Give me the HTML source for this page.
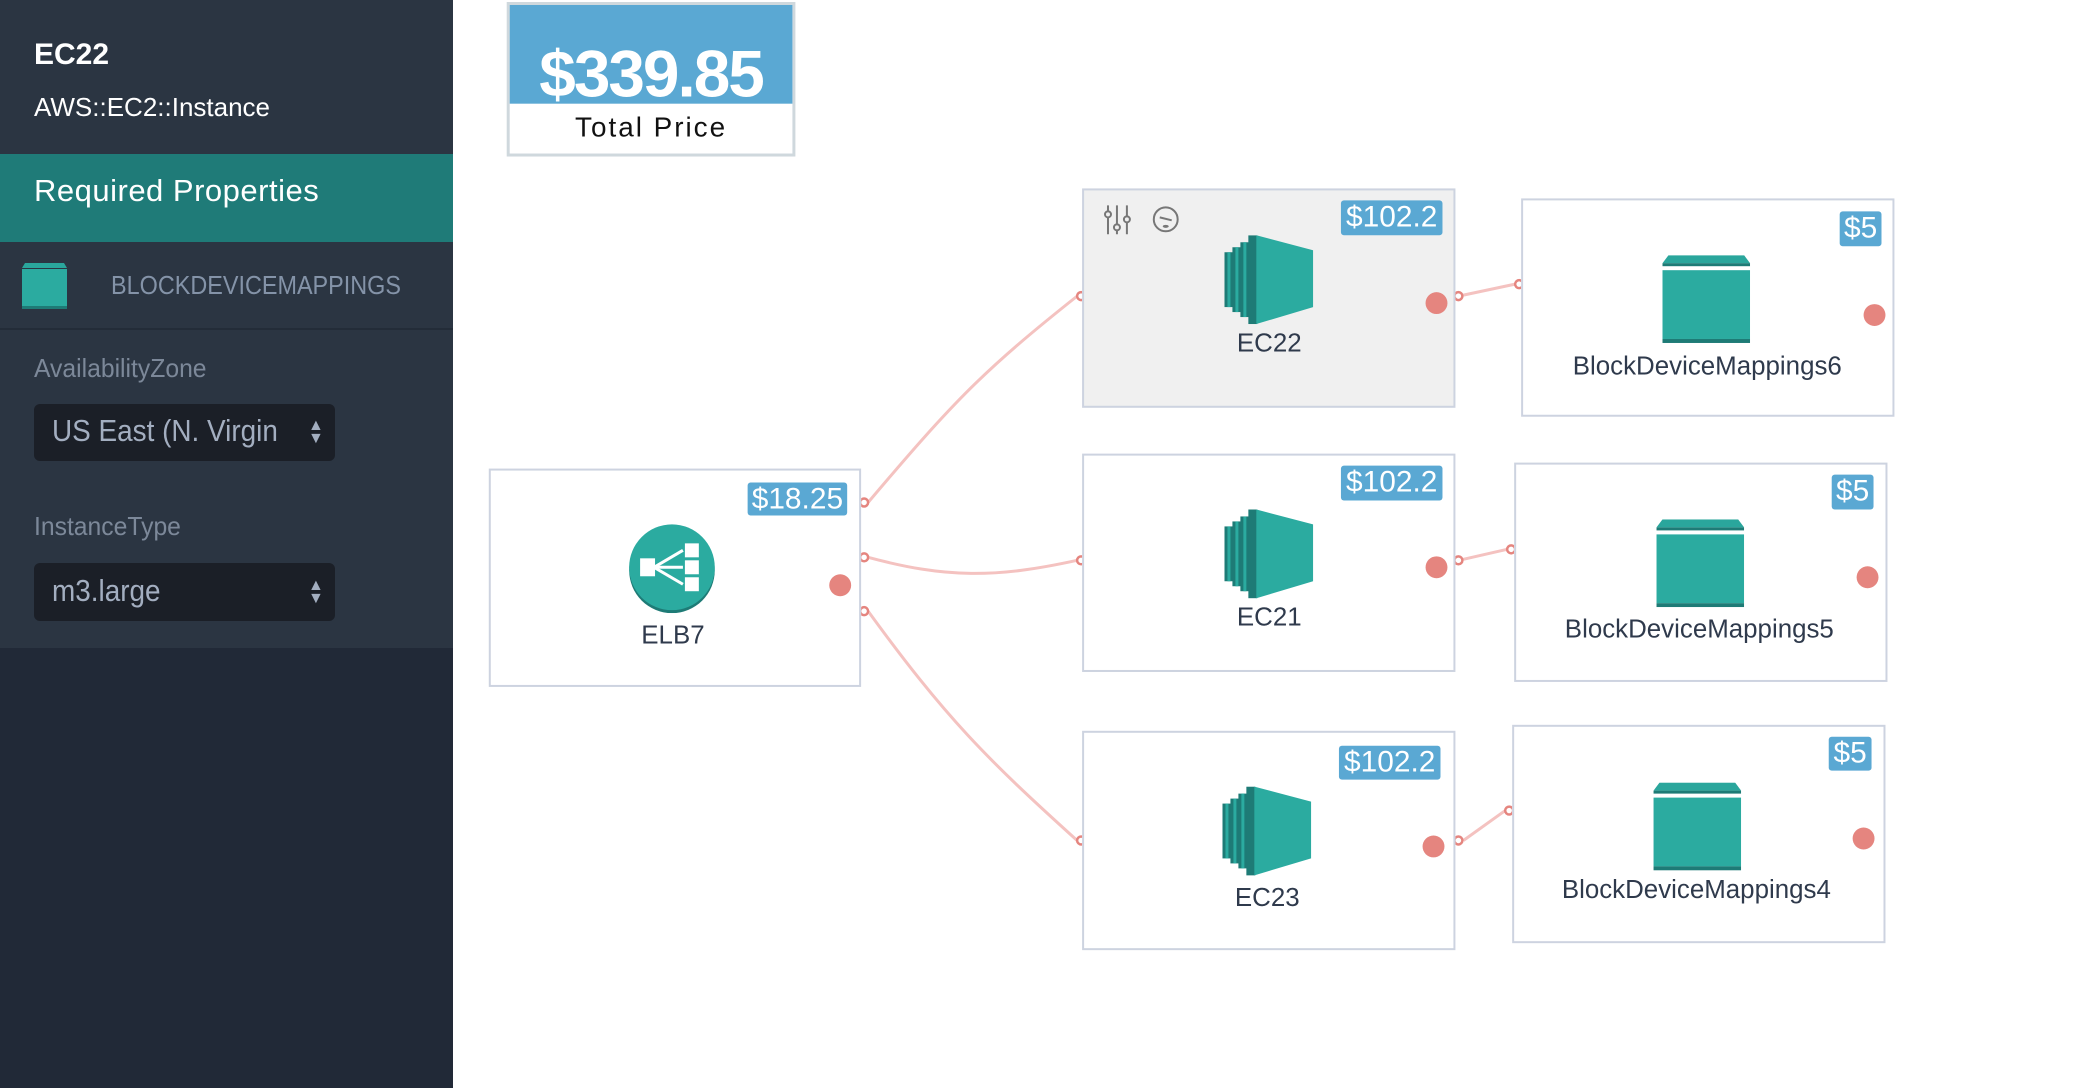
<!DOCTYPE html>
<html><head><meta charset="utf-8"><style>
*{margin:0;padding:0;box-sizing:border-box}
body{width:2082px;height:1088px;background:#fff;position:relative;overflow:hidden;font-family:"Liberation Sans",sans-serif}
.abs{position:absolute}
.nar{font-family:"Liberation Sans Narrow","Liberation Sans",sans-serif;transform-origin:0 0}
.side{left:0;top:0;width:453px;height:1088px;background:#212937}
.node{position:absolute;border:2px solid #cdd3e0;background:#fff}
.badge{position:absolute;background:#5aa8d3;color:#fff;border-radius:3px;font-family:"Liberation Sans Narrow","Liberation Sans",sans-serif;font-size:30px;text-align:center;line-height:34px}
.lbl{position:absolute;color:#2f3a4c;font-size:26px;text-align:center;font-family:"Liberation Sans Narrow","Liberation Sans",sans-serif;transform:translate(-50%,-50%);white-space:nowrap}
.dot{position:absolute;width:22px;height:22px;border-radius:50%;background:#e5857f;transform:translate(-50%,-50%)}
#main{position:absolute;left:0;top:0;width:2082px;height:1088px;transform:scale(0.9955,0.997);transform-origin:0 0}
</style></head><body>
<div class="abs side"></div>
<div class="abs" style="left:0;top:0;width:453px;height:648px;background:#2b3542"></div>
<div class="abs" style="left:34px;top:38px;color:#fff;font-weight:bold;font-size:30px">EC22</div>
<div class="abs" style="left:34px;top:92px;color:#fff;font-size:26px">AWS::EC2::Instance</div>
<div class="abs" style="left:0;top:154px;width:453px;height:88px;background:#1f7b78"></div>
<div class="abs" style="left:34px;top:173px;color:#fff;font-size:31px;letter-spacing:0.5px">Required Properties</div>
<div class="abs" style="left:0;top:328px;width:453px;height:2px;background:#232c38"></div>
<svg class="abs" style="left:22px;top:263px" width="45" height="46"><polygon points="3,0 42,0 45,5 0,5" fill="#2aa69c"/><rect x="0" y="6" width="45" height="38" fill="#2baba0"/><rect x="0" y="43" width="45" height="3" fill="#1e7b76"/></svg>
<div class="abs nar" style="left:111px;top:270px;color:#8493a8;font-size:26px;transform:scaleX(0.9)">BLOCKDEVICEMAPPINGS</div>
<div class="abs nar" style="left:34px;top:353px;color:#7c8899;font-size:26px;transform:scaleX(0.95)">AvailabilityZone</div>
<div class="abs" style="left:34px;top:404px;width:301px;height:57px;background:#1b1f27;border-radius:6px"></div>
<div class="abs nar" style="left:52px;top:413px;color:#a3aec0;font-size:31px;transform:scaleX(0.9)">US East (N. Virgin</div>
<div class="abs" style="left:308px;top:419px;color:#a3aec0;font-size:16px;line-height:13px">▲<br>▼</div>
<div class="abs nar" style="left:34px;top:511px;color:#7c8899;font-size:26px;transform:scaleX(0.95)">InstanceType</div>
<div class="abs" style="left:34px;top:563px;width:301px;height:58px;background:#1b1f27;border-radius:6px"></div>
<div class="abs nar" style="left:52px;top:573px;color:#a3aec0;font-size:31px;transform:scaleX(0.9)">m3.large</div>
<div class="abs" style="left:308px;top:579px;color:#a3aec0;font-size:16px;line-height:13px">▲<br>▼</div>

<div id="main">
<div class="abs" style="left:509px;top:2px;width:290px;height:155px;border:3px solid #cfd8dd;background:#fff"></div>
<div class="abs" style="left:512px;top:5px;width:284px;height:99px;background:#5aa8d3"></div>
<div class="abs" style="left:509px;top:36px;width:290px;text-align:center;color:#fff;font-weight:bold;font-size:66px;letter-spacing:-2px">$339.85</div>
<div class="abs" style="left:509px;top:112px;width:290px;text-align:center;color:#111;font-size:28px;letter-spacing:2px">Total Price</div>

<svg class="abs" style="left:0;top:0" width="2082" height="1088">
<g fill="none" stroke="#f4c2c0" stroke-width="3">
<path d="M872,504 C960,400 990,370 1082,297"/>
<path d="M872,559 C950,580 1000,580 1082,562"/>
<path d="M872,613 C950,720 990,760 1082,843"/>
<path d="M1470,296 L1522,285"/>
<path d="M1470,561 L1514,551"/>
<path d="M1470,843 L1512,813"/>
</g>
<g fill="#fff" stroke="#e5857f" stroke-width="2.5">
<circle cx="868" cy="504" r="4"/><circle cx="868" cy="559" r="4"/><circle cx="868" cy="613" r="4"/>
<circle cx="1086" cy="297" r="4"/><circle cx="1086" cy="562" r="4"/><circle cx="1086" cy="843" r="4"/>
<circle cx="1465" cy="297" r="4"/><circle cx="1465" cy="562" r="4"/><circle cx="1465" cy="843" r="4"/>
<circle cx="1526" cy="285" r="4"/><circle cx="1518" cy="551" r="4"/><circle cx="1516" cy="813" r="4"/>
</g></svg>

<div class="node" style="left:491px;top:470px;width:374px;height:219px"></div>
<div class="badge" style="left:751px;top:484px;width:100px;height:33px">$18.25</div>
<svg class="abs" style="left:630px;top:525px" width="90" height="90"><circle cx="45" cy="47" r="43" fill="#1e7b76"/><circle cx="45" cy="44" r="43" fill="#2baba0"/>
<g fill="#fff"><rect x="13" y="35" width="15" height="18"/><rect x="58" y="20" width="14" height="14"/><rect x="58" y="37" width="14" height="14"/><rect x="58" y="54" width="14" height="14"/></g>
<g stroke="#fff" stroke-width="3"><line x1="27" y1="44" x2="56" y2="27"/><line x1="27" y1="44" x2="56" y2="44"/><line x1="27" y1="44" x2="56" y2="61"/></g></svg>
<div class="lbl" style="left:676px;top:637px">ELB7</div>
<div class="dot" style="left:844px;top:587px"></div>

<div class="node" style="left:1087px;top:189px;width:375px;height:220px;background:#f0f0f0"></div>
<div class="node" style="left:1087px;top:455px;width:375px;height:219px"></div>
<div class="node" style="left:1087px;top:733px;width:375px;height:220px"></div>
<svg class="abs" style="left:1107px;top:203px" width="90" height="35"><g stroke="#777" stroke-width="2" fill="#f0f0f0"><line x1="6" y1="3" x2="6" y2="32"/><line x1="15" y1="3" x2="15" y2="32"/><line x1="25" y1="3" x2="25" y2="32"/><circle cx="6" cy="12" r="3"/><circle cx="15" cy="25" r="3"/><circle cx="25" cy="17" r="3"/><circle cx="64" cy="17" r="12"/><line x1="58" y1="15" x2="70" y2="18"/></g><ellipse cx="64" cy="24" rx="3" ry="1.5" fill="#777"/></svg>
<div class="badge" style="left:1347px;top:201px;width:102px;height:35px">$102.2</div>
<div class="badge" style="left:1347px;top:467px;width:102px;height:35px">$102.2</div>
<div class="badge" style="left:1345px;top:748px;width:102px;height:34px">$102.2</div>
<svg width="0" height="0" style="position:absolute"><defs><g id="ec2">
<rect x="0" y="17" width="9" height="55" fill="#1e7b76"/><rect x="3" y="17" width="3" height="55" fill="#2baba0"/>
<rect x="8" y="12" width="9" height="65" fill="#1e7b76"/><rect x="11" y="12" width="3" height="65" fill="#2baba0"/>
<rect x="16" y="7" width="10" height="75" fill="#1e7b76"/><rect x="19" y="7" width="3" height="75" fill="#2baba0"/>
<rect x="24" y="0" width="9" height="89" fill="#1e7b76"/><polygon points="32,0 89,15 89,72 32,89" fill="#2baba0"/></g>
<g id="disk"><polygon points="6,0 82,0 88,8 0,8" fill="#2aa69c"/><rect x="0" y="8" width="88" height="3" fill="#1e7b76"/><rect x="0" y="15" width="88" height="69" fill="#2baba0"/><rect x="0" y="84" width="88" height="4" fill="#1e7b76"/></g></defs></svg>
<svg class="abs" style="left:1230px;top:236px" width="90" height="90"><use href="#ec2"/></svg>
<svg class="abs" style="left:1230px;top:511px" width="90" height="90"><use href="#ec2"/></svg>
<svg class="abs" style="left:1228px;top:789px" width="90" height="90"><use href="#ec2"/></svg>
<div class="lbl" style="left:1275px;top:344px">EC22</div>
<div class="lbl" style="left:1275px;top:619px">EC21</div>
<div class="lbl" style="left:1273px;top:900px">EC23</div>
<div class="dot" style="left:1443px;top:304px"></div>
<div class="dot" style="left:1443px;top:569px"></div>
<div class="dot" style="left:1440px;top:849px"></div>

<div class="node" style="left:1528px;top:199px;width:375px;height:219px"></div>
<div class="node" style="left:1521px;top:464px;width:375px;height:220px"></div>
<div class="node" style="left:1519px;top:727px;width:375px;height:219px"></div>
<div class="badge" style="left:1848px;top:212px;width:42px;height:35px">$5</div>
<div class="badge" style="left:1840px;top:476px;width:42px;height:35px">$5</div>
<div class="badge" style="left:1837px;top:739px;width:43px;height:34px">$5</div>
<svg class="abs" style="left:1670px;top:256px" width="88" height="88"><use href="#disk"/></svg>
<svg class="abs" style="left:1664px;top:521px" width="88" height="88"><use href="#disk"/></svg>
<svg class="abs" style="left:1661px;top:785px" width="88" height="88"><use href="#disk"/></svg>
<div class="lbl" style="left:1715px;top:367px">BlockDeviceMappings6</div>
<div class="lbl" style="left:1707px;top:631px">BlockDeviceMappings5</div>
<div class="lbl" style="left:1704px;top:892px">BlockDeviceMappings4</div>
<div class="dot" style="left:1883px;top:316px"></div>
<div class="dot" style="left:1876px;top:579px"></div>
<div class="dot" style="left:1872px;top:841px"></div>
</div>
</body></html>
